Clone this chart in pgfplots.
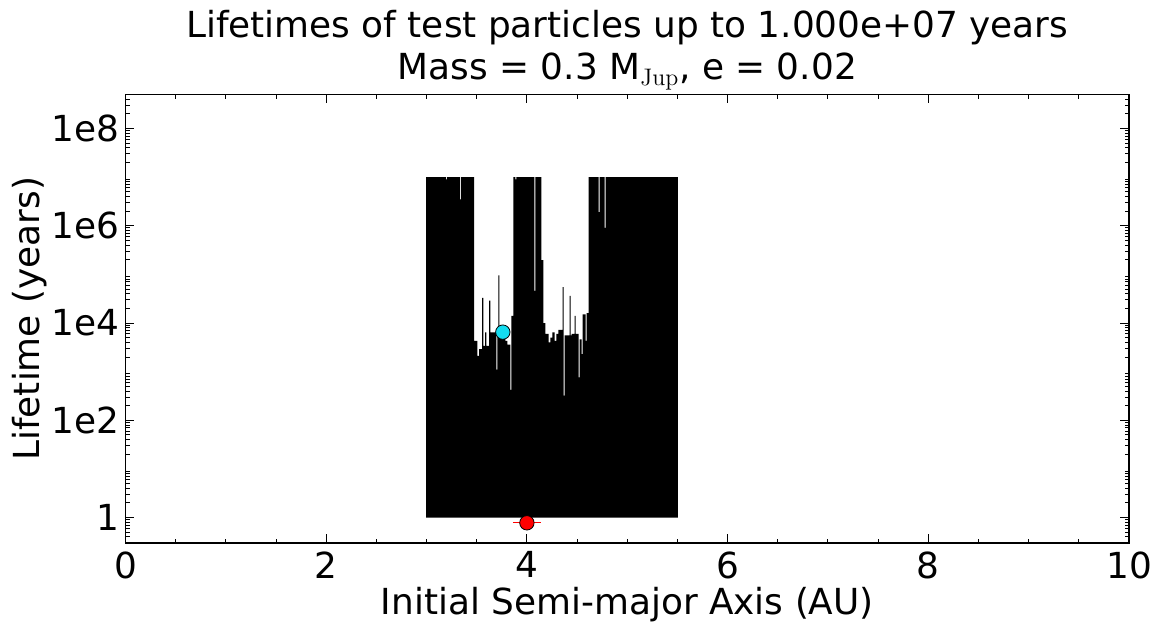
\documentclass[border=0pt]{standalone}
\usepackage[no-math]{fontspec}
\setmainfont{DejaVu Sans}
\usepackage{pgfplots}
\usepackage{pgfplotstable}
\pgfplotsset{compat=1.18}
\definecolor{dotcyan}{RGB}{20,220,240}
\pgfplotstableread[row sep=\\]{
x y\\
3.00 1e7\\ 3.01 1e7\\ 3.02 1e7\\ 3.03 1e7\\ 3.04 1e7\\ 3.05 1e7\\ 3.06 1e7\\ 3.07 1e7\\ 3.08 1e7\\ 3.09 1e7\\
3.10 1e7\\ 3.11 1e7\\ 3.12 1e7\\ 3.13 1e7\\ 3.14 1e7\\ 3.15 1e7\\ 3.16 1e7\\ 3.17 1e7\\ 3.18 1e7\\ 3.19 1e7\\
3.20 9e6\\ 3.21 1e7\\ 3.22 1e7\\ 3.23 1e7\\ 3.24 1e7\\ 3.25 1e7\\ 3.26 1e7\\ 3.27 1e7\\ 3.28 1e7\\ 3.29 1e7\\
3.30 1e7\\ 3.31 1e7\\ 3.32 1e7\\ 3.33 1e7\\ 3.34 3.5e6\\ 3.35 1e7\\ 3.36 1e7\\ 3.37 1e7\\ 3.38 1e7\\ 3.39 1e7\\
3.40 1e7\\ 3.41 1e7\\ 3.42 1e7\\ 3.43 1e7\\ 3.44 1e7\\ 3.45 1e7\\ 3.46 1e7\\ 3.47 1e7\\ 3.48 4300\\ 3.49 4300\\
3.50 4300\\ 3.51 2100\\ 3.52 2100\\ 3.53 2900\\ 3.54 2900\\ 3.55 2900\\ 3.56 33000\\ 3.57 3400\\ 3.58 3400\\ 3.59 6400\\
3.60 3400\\ 3.61 3400\\ 3.62 3400\\ 3.63 29000\\ 3.64 6400\\ 3.65 6400\\ 3.66 6400\\ 3.67 6400\\ 3.68 6400\\ 3.69 6400\\
3.70 1100\\ 3.71 6400\\ 3.72 96000\\ 3.73 6400\\ 3.74 6400\\ 3.75 6400\\ 3.76 6400\\ 3.77 6400\\ 3.78 5500\\ 3.79 4300\\
3.80 4300\\ 3.81 3600\\ 3.82 3600\\ 3.83 3600\\ 3.84 420\\ 3.85 14000\\ 3.86 14000\\ 3.87 1e7\\ 3.88 1e7\\ 3.89 9e6\\
3.90 1e7\\ 3.91 1e7\\ 3.92 1e7\\ 3.93 1e7\\ 3.94 1e7\\ 3.95 1e7\\ 3.96 1e7\\ 3.97 1e7\\ 3.98 1e7\\ 3.99 1e7\\
4.00 1e7\\ 4.01 1e7\\ 4.02 1e7\\ 4.03 1e7\\ 4.04 1e7\\ 4.05 1e7\\ 4.06 1e7\\ 4.07 1e7\\ 4.08 46000\\ 4.09 1e7\\
4.10 1e7\\ 4.11 1e7\\ 4.12 1e7\\ 4.13 1e7\\ 4.14 1e7\\ 4.15 196000\\ 4.16 196000\\ 4.17 10000\\ 4.18 10000\\ 4.19 6000\\
4.20 6000\\ 4.21 6000\\ 4.22 4000\\ 4.23 4000\\ 4.24 5000\\ 4.25 5000\\ 4.26 6400\\ 4.27 6400\\ 4.28 4300\\ 4.29 4300\\
4.30 6000\\ 4.31 6000\\ 4.32 7200\\ 4.33 7200\\ 4.34 7200\\ 4.35 7200\\ 4.36 55000\\ 4.37 320\\ 4.38 5600\\ 4.39 5600\\
4.40 5600\\ 4.41 5600\\ 4.42 5600\\ 4.43 36000\\ 4.44 5600\\ 4.45 6000\\ 4.46 6000\\ 4.47 6000\\ 4.48 14000\\ 4.49 6000\\
4.50 6000\\ 4.51 6000\\ 4.52 760\\ 4.53 4600\\ 4.54 4600\\ 4.55 2300\\ 4.56 15000\\ 4.57 15000\\ 4.58 15000\\ 4.59 4300\\
4.60 16000\\ 4.61 16000\\ 4.62 1e7\\ 4.63 1e7\\ 4.64 1e7\\ 4.65 1e7\\ 4.66 1e7\\ 4.67 1e7\\ 4.68 1e7\\ 4.69 1e7\\
4.70 1e7\\ 4.71 1e7\\ 4.72 1.9e6\\ 4.73 1e7\\ 4.74 1e7\\ 4.75 1e7\\ 4.76 1e7\\ 4.77 1e7\\ 4.78 9.1e5\\ 4.79 1e7\\
4.80 1e7\\ 4.81 1e7\\ 4.82 1e7\\ 4.83 1e7\\ 4.84 1e7\\ 4.85 1e7\\ 4.86 1e7\\ 4.87 1e7\\ 4.88 1e7\\ 4.89 1e7\\
4.90 1e7\\ 4.91 1e7\\ 4.92 1e7\\ 4.93 1e7\\ 4.94 1e7\\ 4.95 1e7\\ 4.96 1e7\\ 4.97 1e7\\ 4.98 1e7\\ 4.99 1e7\\
5.00 1e7\\ 5.01 1e7\\ 5.02 1e7\\ 5.03 1e7\\ 5.04 1e7\\ 5.05 1e7\\ 5.06 1e7\\ 5.07 1e7\\ 5.08 1e7\\ 5.09 1e7\\
5.10 1e7\\ 5.11 1e7\\ 5.12 1e7\\ 5.13 1e7\\ 5.14 1e7\\ 5.15 1e7\\ 5.16 1e7\\ 5.17 1e7\\ 5.18 1e7\\ 5.19 1e7\\
5.20 1e7\\ 5.21 1e7\\ 5.22 1e7\\ 5.23 1e7\\ 5.24 1e7\\ 5.25 1e7\\ 5.26 1e7\\ 5.27 1e7\\ 5.28 1e7\\ 5.29 1e7\\
5.30 1e7\\ 5.31 1e7\\ 5.32 1e7\\ 5.33 1e7\\ 5.34 1e7\\ 5.35 1e7\\ 5.36 1e7\\ 5.37 1e7\\ 5.38 1e7\\ 5.39 1e7\\
5.40 1e7\\ 5.41 1e7\\ 5.42 1e7\\ 5.43 1e7\\ 5.44 1e7\\ 5.45 1e7\\ 5.46 1e7\\ 5.47 1e7\\ 5.48 1e7\\ 5.49 1e7\\
5.50 1e7\\
}\lifetimes

\begin{document}
\begin{tikzpicture}
\useasboundingbox (-62.75bp,-40bp) rectangle (514.75bp,271.5bp);
\begin{axis}[
  at={(0,0)}, anchor=south west,
  scale only axis, width=501.75bp, height=224.25bp,
  ymode=log, xmin=0, xmax=10, ymin=0.3, ymax=5e8,
  xtick={0,2,4,6,8,10}, xticklabels={0,2,4,6,8,10},
  minor xtick={0.5,1,1.5,2.5,3,3.5,4.5,5,5.5,6.5,7,7.5,8.5,9,9.5},
  ytick={1,1e2,1e4,1e6,1e8}, yticklabels={1,1e2,1e4,1e6,1e8},
  minor ytick={0.4,0.5,0.6,0.7,0.8,0.9,
    2,3,4,5,6,7,8,9, 20,30,40,50,60,70,80,90,
    200,300,400,500,600,700,800,900, 2e3,3e3,4e3,5e3,6e3,7e3,8e3,9e3,
    2e4,3e4,4e4,5e4,6e4,7e4,8e4,9e4, 2e5,3e5,4e5,5e5,6e5,7e5,8e5,9e5,
    2e6,3e6,4e6,5e6,6e6,7e6,8e6,9e6, 2e7,3e7,4e7,5e7,6e7,7e7,8e7,9e7,
    2e8,3e8,4e8},
  tick align=inside, tick pos=both,
  major tick length=4.5bp, minor tick length=2.2bp,
  every tick/.style={black, line width=0.5bp},
  axis line style={line width=0.9bp},
  tick label style={font=\fontsize{18}{21.6}\selectfont},
  xticklabel style={inner sep=2bp, yshift=-2bp},
  yticklabel style={inner sep=2bp, xshift=-1bp},
  clip=true,
]
\addplot[ybar, bar width=0.0105, fill=black, draw=none] table[x=x,y=y]{\lifetimes};
\addplot[only marks, mark=*, mark size=3.6bp, mark options={fill=dotcyan, draw=black, line width=0.4bp}] coordinates {(3.76,6500)};
\addplot[only marks, mark=*, mark size=3.6bp, mark options={fill=red, draw=black, line width=0.4bp},
  error bars/.cd, x dir=both, x explicit,
  error bar style={red, line width=0.5bp},
  error mark options={red, mark size=3bp, line width=0.5bp}]
  coordinates {(4.0,0.78) +- (0.08,0)};
\end{axis}
\node[anchor=base, font=\fontsize{18}{21.6}\selectfont] at (250.9bp,252.5bp) {Lifetimes of test particles up to 1.000e+07 years};
\node[anchor=base, font=\fontsize{18}{21.6}\selectfont] at (250.9bp,231.5bp) {Mass = 0.3 M$_{\mathrm{Jup}}$, e = 0.02};
\node[anchor=base, font=\fontsize{18}{21.6}\selectfont] at (250.9bp,-35.5bp) {Initial Semi-major Axis (AU)};
\node[anchor=base, rotate=90, font=\fontsize{18}{21.6}\selectfont] at (-42.75bp,112.1bp) {Lifetime (years)};
\end{tikzpicture}
\end{document}
